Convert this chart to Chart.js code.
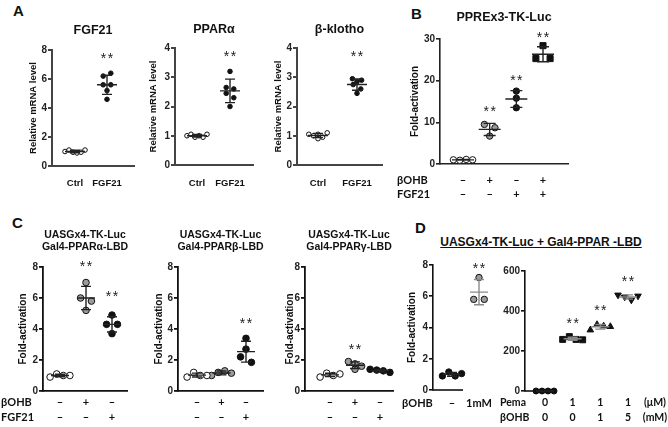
<!DOCTYPE html>
<html><head><meta charset="utf-8">
<script src="https://cdn.jsdelivr.net/npm/chart.js@4.4.1/dist/chart.umd.min.js"></script>
<style>
html,body{margin:0;padding:0;background:#fff;}
#wrap{position:relative;width:668px;height:427px;overflow:hidden;background:#fff;}
#wrap canvas{position:absolute;left:0;top:0;}
.letter{position:absolute;font:bold 15px 'Liberation Sans',Arial,sans-serif;line-height:15px;color:#111;}
.dtitle{position:absolute;font:bold 12px 'Liberation Sans',Arial,sans-serif;line-height:14px;color:#111;text-decoration:underline;text-align:center;white-space:pre;}
</style></head><body>
<div id="wrap">
  <div class="letter" style="left:13px;top:3px">A</div>
  <div class="letter" style="left:411px;top:6px">B</div>
  <div class="letter" style="left:12px;top:215px">C</div>
  <div class="letter" style="left:415px;top:220px">D</div>
  <div class="dtitle" style="left:391px;top:235px;width:300px">UASGx4-TK-Luc + Gal4-PPAR -LBD</div>
</div>
<script>
// ================= DATA =================
// Panel A (relative mRNA level)
const aCategories = ['Ctrl', 'FGF21'];
const aFgf21Ctrl    = [1.0, 1.1, 0.95, 0.9, 0.95, 1.1];
const aFgf21Treated = [6.2, 6.4, 5.6, 5.6, 5.2, 4.6];
const aPparaCtrl    = [1.0, 1.05, 0.95, 1.0, 0.95, 1.05];
const aPparaTreated = [3.2, 2.65, 2.6, 2.45, 2.3, 2.0];
const aKlothoCtrl   = [1.05, 1.0, 0.9, 1.05, 0.95, 1.1];
const aKlothoTreated= [2.95, 2.85, 2.9, 2.75, 2.6, 2.45];
const aFgf21Stars  = [null, 7.65];
const aPparaStars  = [null, 3.83];
const aKlothoStars = [null, 3.83];

// Panel B (PPREx3-TK-Luc fold activation)
const bOhbSigns = ['–', '+', '–', '+'];
const bFgfSigns = ['–', '–', '+', '+'];
const bValues = [[1.0, 0.9, 1.1, 1.0], [9.5, 8.7, 6.7], [17.5, 15.8, 13.5], [28.4, 25.3, 25.3]];
const bStars = [null, 13.4, 20.9, 31.2];

// Panel C (UASGx4-TK-Luc, Gal4-PPAR-LBD)
const cOhbSigns = ['–', '+', '–'];
const cFgfSigns = ['–', '–', '+'];
const cAlphaValues = [[0.9, 1.1, 1.0, 1.0], [7.0, 6.0, 5.8, 5.2], [4.9, 4.3, 4.3, 3.7]];
const cBetaValues  = [[0.9, 1.2, 1.0, 1.0], [1.0, 1.2, 1.3, 1.15], [3.4, 2.7, 2.2, 1.85]];
const cGammaValues = [[0.9, 1.15, 1.0, 1.1], [1.9, 1.75, 1.6, 1.4], [1.4, 1.35, 1.3, 1.2]];
const cAlphaStars = [null, 8.26, 6.3];
const cBetaStars  = [null, null, 4.55];
const cGammaStars = [null, 2.9, null];

// Panel D
const d1OhbLabels = ['–', '1mM'];
const d1Values = [[0.9, 1.15, 0.9, 1.05], [7.2, 5.8, 5.8]];
const d1Stars = [null, 8.0];
const d2PemaLabels = ['0', '1', '1', '1'];
const d2OhbLabels  = ['0', '0', '1', '5'];
const d2Values = [[0, 0, 0, 0], [258, 272, 258, 256], [305, 332, 325, 322], [480, 470, 455, 475]];
const d2Stars = [null, 355, 421, 563];

// ================= STYLE =================
const SANS = "'Liberation Sans', Arial, sans-serif";
const CAL = "Lato, 'Liberation Sans', sans-serif";
const GREY = '#9b9b9b';
const mk = (style, fill, r, rot) => ({style, fill, r, rot: rot || 0});
const W = 668, H = 427, YW = 30;

function stats(v) {
  const m = v.reduce((a, b) => a + b, 0) / v.length;
  const sd = v.length > 1 ? Math.sqrt(v.reduce((a, b) => a + (b - m) * (b - m), 0) / (v.length - 1)) : 0;
  return {m, sd};
}

const swarm = {
  id: 'swarm',
  afterDatasetsUpdate(chart) {
    const xs = chart.scales.x;
    chart.data.datasets.forEach((ds, i) => {
      const meta = chart.getDatasetMeta(i);
      const r = ds.pointRadius;
      const els = meta.data.map((el, j) => ({el, j, y: el.y}));
      els.sort((a, b) => a.y - b.y || a.j - b.j);
      const rows = [];
      for (const e of els) {
        const row = rows[rows.length - 1];
        if (row && e.y - row[0].y < 2 * r) row.push(e); else rows.push([e]);
      }
      const cx = xs.getPixelForValue(i);
      for (const row of rows) {
        row.sort((a, b) => a.j - b.j);
        const n = row.length;
        const sp = n === 1 ? 0 : (n === 2 ? 3.3 * r : Math.min(2 * r, 20 / (n - 1)));
        row.forEach((e, k) => { e.el.x = cx + (k - (n - 1) / 2) * sp; });
      }
    });
  }
};

function makeDeco(p) {
  return {
    id: 'deco',
    afterDatasetsDraw(chart) {
      const ctx = chart.ctx, xs = chart.scales.x, ys = chart.scales.y;
      ctx.save();
      if (p.xAxisEnd) {
        ctx.strokeStyle = p.axisColor; ctx.lineWidth = p.axisWidth;
        ctx.beginPath();
        ctx.moveTo(chart.chartArea.left - p.axisWidth / 2, ys.getPixelForValue(0));
        ctx.lineTo(p.xAxisEnd, ys.getPixelForValue(0));
        ctx.stroke();
      }
      p.groups.forEach((g, i) => {
        const {m, sd} = stats(g);
        const x = xs.getPixelForValue(i);
        const ym = ys.getPixelForValue(m), yt = ys.getPixelForValue(m + sd), yb = ys.getPixelForValue(m - sd);
        ctx.strokeStyle = p.barColors[i]; ctx.lineWidth = 1.4;
        ctx.beginPath();
        ctx.moveTo(x - p.meanHalf, ym); ctx.lineTo(x + p.meanHalf, ym);
        ctx.moveTo(x, yt); ctx.lineTo(x, yb);
        ctx.moveTo(x - p.capHalf, yt); ctx.lineTo(x + p.capHalf, yt);
        ctx.moveTo(x - p.capHalf, yb); ctx.lineTo(x + p.capHalf, yb);
        ctx.stroke();
      });
      ctx.fillStyle = '#222';
      ctx.font = '14px ' + SANS;
      ctx.textAlign = 'center'; ctx.textBaseline = 'alphabetic';
      try { ctx.letterSpacing = '1.5px'; } catch (e) {}
      p.stars.forEach((s, i) => {
        if (s == null) return;
        ctx.fillText('**', xs.getPixelForValue(i) + 0.75, ys.getPixelForValue(s) + 8);
      });
      try { ctx.letterSpacing = '0px'; } catch (e) {}
      ctx.restore();
    },
    afterDraw(chart) {
      const ctx = chart.ctx, xs = chart.scales.x, ca = chart.chartArea;
      ctx.save();
      ctx.fillStyle = '#111';
      ctx.textBaseline = 'middle';
      ctx.textAlign = 'center';
      ctx.font = p.titleFont;
      (p.title || []).forEach((t, k) => ctx.fillText(t, (ca.left + ca.right) / 2, p.titleY[k]));
      if (p.yTitle) {
        ctx.save();
        ctx.translate(p.yTitleX, (ca.top + ca.bottom) / 2);
        ctx.rotate(-Math.PI / 2);
        ctx.font = p.yTitleFont;
        ctx.fillText(p.yTitle, 0, 0);
        ctx.restore();
      }
      if (p.catLabels) {
        ctx.font = p.catFont;
        p.catLabels.forEach((c, i) => ctx.fillText(c, xs.getPixelForValue(i), p.catY));
      }
      (p.rows || []).forEach(row => {
        ctx.font = p.rowFont;
        if (row.label) { ctx.textAlign = 'left'; ctx.fillText(row.label, row.x, row.y); }
        ctx.textAlign = 'center';
        row.items.forEach((t, i) => ctx.fillText(t, xs.getPixelForValue(i), row.y));
        if (row.unit) ctx.fillText(row.unit, row.unitX, row.y);
      });
      ctx.restore();
    }
  };
}

function makePanel(p) {
  const wrap = document.getElementById('wrap');
  const cv = document.createElement('canvas');
  cv.width = W; cv.height = H; cv.style.width = W + 'px'; cv.style.height = H + 'px';
  wrap.appendChild(cv);
  const n = p.groups.length;
  const c0 = p.catPx[0], c1 = p.catPx[p.catPx.length - 1];
  const s = (c1 - c0) / (n - 1);
  const xmin = -(c0 - p.area.l) / s;
  const xmax = (n - 1) + (p.area.r - c1) / s;
  const datasets = p.groups.map((g, i) => {
    const m = p.markers[i];
    return {
      data: g.map(v => ({x: i, y: v})),
      pointStyle: m.style,
      pointRadius: m.r,
      pointRotation: m.rot,
      pointBackgroundColor: m.fill,
      pointBorderColor: '#111',
      pointBorderWidth: 1,
      showLine: false,
      clip: false
    };
  });
  new Chart(cv, {
    type: 'scatter',
    data: {datasets},
    options: {
      responsive: false, animation: false, events: [], devicePixelRatio: 1,
      layout: {padding: {left: p.area.l - YW, right: W - p.area.r, top: p.area.t, bottom: H - p.area.b}},
      plugins: {legend: {display: false}, tooltip: {enabled: false}, title: {display: false}},
      scales: {
        x: {
          type: 'linear', min: xmin, max: xmax,
          ticks: {display: false},
          grid: {display: false, drawTicks: false},
          border: {display: !p.xAxisEnd, color: p.axisColor, width: p.axisWidth},
          afterFit(sc) { sc.height = 0; }
        },
        y: {
          min: 0, max: p.ymax,
          ticks: {stepSize: p.step, color: '#222', padding: 1, font: {family: SANS, size: 10, weight: 'bold'}},
          grid: {drawOnChartArea: false, drawTicks: true, tickLength: 4, color: p.axisColor, lineWidth: p.axisWidth},
          border: {display: true, color: p.axisColor, width: p.axisWidth},
          afterFit(sc) { sc.width = YW; }
        }
      }
    },
    plugins: [swarm, makeDeco(p)]
  });
}

// ================= PANELS =================
const aMarkers = [mk('circle', '#fff', 2.3), mk('circle', '#111', 2.3)];
const aCommon = {
  markers: aMarkers, barColors: ['#222', '#222'], meanHalf: 10, capHalf: 5,
  titleFont: 'bold 12.5px ' + SANS, titleY: [31],
  yTitle: 'Relative mRNA level', yTitleFont: 'bold 9.5px ' + SANS,
  catLabels: aCategories, catFont: 'bold 9.5px ' + SANS, catY: 183,
  axisColor: '#444', axisWidth: 2
};
makePanel(Object.assign({}, aCommon, {
  area: {l: 52, r: 134, t: 50, b: 166}, catPx: [75, 107], ymax: 8, step: 2,
  groups: [aFgf21Ctrl, aFgf21Treated], stars: aFgf21Stars, title: ['FGF21'], yTitleX: 33
}));
makePanel(Object.assign({}, aCommon, {
  area: {l: 175, r: 253, t: 48, b: 165}, catPx: [197, 230], ymax: 4, step: 1,
  groups: [aPparaCtrl, aPparaTreated], stars: aPparaStars, title: ['PPARα'], titleY: [30], yTitleX: 153
}));
makePanel(Object.assign({}, aCommon, {
  area: {l: 297, r: 382, t: 48, b: 165}, catPx: [318, 357], ymax: 4, step: 1,
  groups: [aKlothoCtrl, aKlothoTreated], stars: aKlothoStars, title: ['β-klotho'], titleY: [30], yTitleX: 278
}));

makePanel({
  area: {l: 440, r: 568, t: 39, b: 164}, catPx: [463, 543], ymax: 30, step: 10,
  groups: bValues, stars: bStars,
  markers: [mk('circle', '#fff', 3.2), mk('circle', GREY, 3.2), mk('circle', '#111', 3.2), mk('rect', '#111', 4.3)],
  barColors: ['#222', '#222', '#222', '#222'], meanHalf: 11, capHalf: 6,
  title: ['PPREx3-TK-Luc'], titleY: [18], titleFont: 'bold 12.5px ' + SANS,
  yTitle: 'Fold-activation', yTitleX: 415, yTitleFont: 'bold 10px ' + SANS,
  rowFont: 'bold 11px ' + CAL,
  rows: [{label: 'βOHB', x: 397, y: 180, items: bOhbSigns}, {label: 'FGF21', x: 397, y: 194, items: bFgfSigns}],
  axisColor: '#222', axisWidth: 1.6
});

const cCommon = {
  ymax: 8, step: 2,
  markers: [mk('circle', '#fff', 3.3), mk('circle', GREY, 3.3), mk('circle', '#111', 3.3)],
  barColors: ['#222', '#222', '#222'], meanHalf: 9, capHalf: 5,
  titleY: [235, 247], titleFont: 'bold 10.5px ' + SANS,
  yTitle: 'Fold-activation', yTitleFont: 'bold 10px ' + SANS,
  rowFont: 'bold 11px ' + CAL,
  axisColor: '#111', axisWidth: 1.8
};
makePanel(Object.assign({}, cCommon, {
  area: {l: 43, r: 127, t: 267, b: 391}, catPx: [60, 112],
  groups: cAlphaValues, stars: cAlphaStars, title: ['UASGx4-TK-Luc', 'Gal4-PPARα-LBD'], yTitleX: 23,
  rows: [{label: 'βOHB', x: 1, y: 402, items: cOhbSigns}, {label: 'FGF21', x: 1, y: 417, items: cFgfSigns}]
}));
makePanel(Object.assign({}, cCommon, {
  area: {l: 178, r: 263, t: 267, b: 391}, catPx: [197, 246],
  groups: cBetaValues, stars: cBetaStars, title: ['UASGx4-TK-Luc', 'Gal4-PPARβ-LBD'], yTitleX: 159,
  rows: [{items: cOhbSigns, y: 402}, {items: cFgfSigns, y: 417}]
}));
makePanel(Object.assign({}, cCommon, {
  area: {l: 305, r: 393, t: 267, b: 391}, catPx: [330, 380],
  groups: cGammaValues, stars: cGammaStars, title: ['UASGx4-TK-Luc', 'Gal4-PPARγ-LBD'], yTitleX: 290,
  rows: [{items: cOhbSigns, y: 402}, {items: cFgfSigns, y: 417}]
}));

makePanel({
  area: {l: 433, r: 492, t: 265, b: 390}, xAxisEnd: 463, catPx: [452, 479], ymax: 8, step: 2,
  groups: d1Values, stars: d1Stars,
  markers: [mk('circle', '#111', 3.2), mk('circle', GREY, 3.2)],
  barColors: ['#222', '#8a8a8a'], meanHalf: 9, capHalf: 5,
  yTitle: 'Fold-activation', yTitleX: 412, yTitleFont: 'bold 10px ' + SANS,
  rowFont: 'bold 11px ' + CAL,
  rows: [{label: 'βOHB', x: 402, y: 403, items: d1OhbLabels}],
  axisColor: '#111', axisWidth: 1.6
});
makePanel({
  area: {l: 525, r: 642, t: 271, b: 391}, xAxisEnd: 555, catPx: [545, 628], ymax: 600, step: 200,
  groups: d2Values, stars: d2Stars,
  markers: [mk('circle', '#111', 3.0), mk('rect', '#111', 4.2), mk('triangle', '#111', 3.8), mk('triangle', '#111', 3.8, 180)],
  barColors: ['#222', '#888', '#888', '#888'], meanHalf: 9, capHalf: 5,
  rowFont: 'bold 10.5px ' + CAL,
  rows: [{label: 'Pema', x: 500, y: 403, items: d2PemaLabels, unit: '(μM)', unitX: 655},
         {label: 'βOHB', x: 500, y: 418, items: d2OhbLabels, unit: '(mM)', unitX: 655}],
  axisColor: '#111', axisWidth: 1.6
});
</script>
</body></html>
